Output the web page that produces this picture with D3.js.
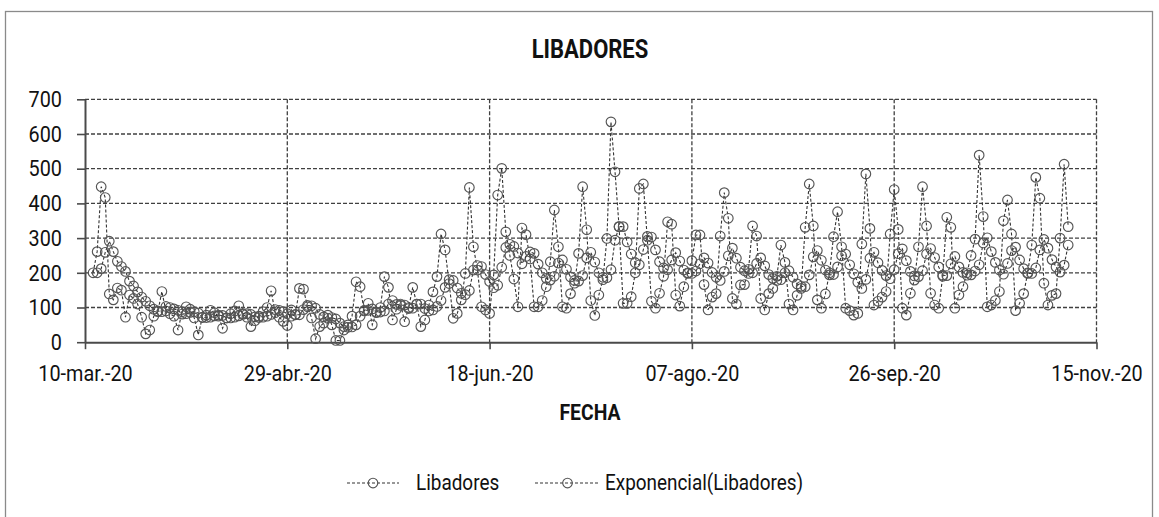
<!DOCTYPE html>
<html><head><meta charset="utf-8">
<script src="https://cdn.jsdelivr.net/npm/d3@7"></script>
<style>
html,body{margin:0;padding:0;background:#fff;}
svg{display:block;}
text{font-family:Roboto,"Noto Sans",sans-serif;fill:#111;}
.cond{transform-box:fill-box;transform:scaleX(0.88);}
</style>
</head><body>
<svg id="chart" width="1159" height="517"></svg>
<script>
// ---- data ----
const libadoresStart = "2020-03-12";
const exponencialStart = "2020-03-13";
const libadores = [
 200,261,448,417,139,122,156,150,72,136,
 126,110,72,24,35,75,88,146,90,82,
 75,35,88,102,95,70,21,72,78,92,
 85,75,40,70,82,90,105,80,72,45,
 62,75,88,100,148,85,72,60,48,93,
 80,155,153,102,70,10,45,55,78,50,
 5,5,35,50,75,174,160,90,112,50,
 85,100,189,158,64,95,110,59,100,158,
 110,45,64,107,145,189,312,266,169,69,
 83,122,198,446,275,208,102,93,83,194,
 424,501,318,250,182,102,329,310,240,102,
 102,120,160,232,381,275,102,98,140,170,
 256,448,324,120,77,136,180,299,635,491,
 333,112,112,131,200,443,456,294,118,98,
 141,190,347,340,136,104,160,200,235,309,
 309,166,93,130,140,306,431,357,126,110,
 165,166,210,335,306,126,93,140,155,190,
 280,230,110,93,135,155,331,456,335,122,
 98,139,200,304,376,275,98,91,78,83,
 283,485,328,107,118,130,146,312,440,325,
 98,78,141,179,275,448,335,141,107,98,
 190,360,331,98,136,160,200,250,297,539,
 362,102,107,120,146,350,410,312,91,112,
 140,200,280,475,415,170,107,135,140,300,
 513,333
];
const exponencial = [
 200,212,259,291,261,233,218,204,176,162,
 145,130,118,105,95,90,88,103,100,96,
 92,81,82,86,88,84,71,71,72,76,
 78,77,70,70,72,76,82,82,80,73,
 71,72,75,80,94,92,88,82,75,79,
 79,94,106,105,98,80,73,69,71,67,
 55,45,43,44,50,75,92,92,96,87,
 87,90,110,120,109,106,107,97,98,110,
 110,97,90,93,103,120,158,180,178,156,
 141,137,149,208,221,218,195,175,157,164,
 216,273,282,276,257,226,247,260,256,225,
 200,184,179,190,228,237,210,188,178,176,
 192,243,259,231,200,187,186,209,294,333,
 333,289,254,229,223,267,305,303,266,232,
 214,209,237,258,234,208,198,198,205,226,
 243,228,201,187,178,204,249,271,242,216,
 206,198,200,227,243,220,195,184,178,180,
 200,206,187,168,161,160,194,246,264,236,
 208,194,195,217,249,254,223,197,173,155,
 181,242,259,229,207,192,183,209,255,269,
 235,204,191,189,206,254,270,244,217,193,
 192,226,247,217,201,193,194,205,223,286,
 301,261,230,208,196,227,264,274,237,212,
 198,198,214,266,296,271,238,217,202,222,
 280
];
const yTickValues = [0,100,200,300,400,500,600,700];
const xTickDates = ["2020-03-10","2020-04-29","2020-06-18","2020-08-07","2020-09-26","2020-11-15"];
const xTickLabels = ["10-mar.-20","29-abr.-20","18-jun.-20","07-ago.-20","26-sep.-20","15-nov.-20"];
const seriesNames = ["Libadores","Exponencial(Libadores)"];
const chartTitle = "LIBADORES";
const xTitle = "FECHA";

// ---- drawing ----
const parse = d3.utcParse("%Y-%m-%d");
const svg = d3.select("#chart");
const plotL = 85, plotR = 1096.5, plotT = 99.3, plotB = 342.2;

const x = d3.scaleUtc().domain([parse(xTickDates[0]), parse(xTickDates[xTickDates.length-1])]).range([plotL, plotR]);
const y = d3.scaleLinear().domain([0, 700]).range([plotB, plotT]);

svg.append("rect").attr("width",1159).attr("height",517).attr("fill","#fff");
svg.append("rect").attr("x",5.5).attr("y",11.5).attr("width",1147).attr("height",530)
  .attr("fill","none").attr("stroke","#8a8a8a").attr("stroke-width",1.3);

svg.append("text").attr("class","cond").style("transform-origin","center")
  .attr("x",590).attr("y",58).attr("text-anchor","middle")
  .attr("font-size",25).attr("font-weight","bold").text(chartTitle);

// gridlines
const grid = svg.append("g");
grid.append("g").selectAll("line").data(yTickValues.filter(v=>v>0)).join("line")
  .attr("x1",plotL).attr("x2",plotR).attr("y1",d=>y(d)).attr("y2",d=>y(d))
  .attr("stroke","#404040").attr("stroke-width",1.3).attr("stroke-dasharray","4,2");
grid.append("g").selectAll("line").data(xTickDates.slice(1).map(parse)).join("line")
  .attr("x1",d=>x(d)).attr("x2",d=>x(d)).attr("y1",y(700)).attr("y2",y(0))
  .attr("stroke","#404040").attr("stroke-width",1.3).attr("stroke-dasharray","4,2");

// axes
const yAxis = svg.append("g").attr("transform",`translate(${plotL},0)`)
  .call(d3.axisLeft(y).tickValues(yTickValues).tickSize(8).tickSizeOuter(0).tickPadding(15));
const xAxis = svg.append("g").attr("transform",`translate(0,${plotB})`)
  .call(d3.axisBottom(x).tickValues(xTickDates.map(parse)).tickFormat((d,i)=>xTickLabels[i])
    .tickSize(7).tickSizeOuter(0).tickPadding(16));
[yAxis,xAxis].forEach(a=>{
  a.select(".domain").attr("stroke","#4a4a4a").attr("stroke-width",2);
  a.selectAll(".tick line").attr("stroke","#4a4a4a").attr("stroke-width",1.6);
  a.selectAll(".tick text").attr("font-size",22.5).attr("fill","#111")
   .attr("font-family","Roboto, 'Noto Sans', sans-serif").attr("class","cond");
});
yAxis.selectAll(".tick text").style("transform-origin","right center");
xAxis.selectAll(".tick text").style("transform-origin","center");

svg.append("text").attr("class","cond").style("transform-origin","center")
  .attr("x",590).attr("y",420).attr("text-anchor","middle")
  .attr("font-size",22).attr("font-weight","bold").text(xTitle);

// series
function toPoints(start, arr){
  const s = parse(start);
  return arr.map((v,i)=>({date:d3.utcDay.offset(s,i), v}));
}
const series = [toPoints(libadoresStart, libadores), toPoints(exponencialStart, exponencial)];
const line = d3.line().x(d=>x(d.date)).y(d=>y(d.v));
const lineColor = "#333", markerColor = "#555";
series.forEach(pts=>{
  const g = svg.append("g");
  g.append("path").datum(pts).attr("d",line).attr("fill","none")
    .attr("stroke",lineColor).attr("stroke-width",1.1).attr("stroke-dasharray","3,2");
  g.selectAll("circle").data(pts).join("circle")
    .attr("cx",d=>x(d.date)).attr("cy",d=>y(d.v)).attr("r",4.8)
    .attr("fill","none").attr("stroke",markerColor).attr("stroke-width",1.15);
});

// legend
const legendItems = [
  {name:seriesNames[0], x1:347, x2:399, tx:416},
  {name:seriesNames[1], x1:535, x2:600, tx:605}
];
const lg = svg.append("g");
legendItems.forEach(it=>{
  lg.append("line").attr("x1",it.x1).attr("x2",it.x2).attr("y1",483).attr("y2",483)
    .attr("stroke",lineColor).attr("stroke-width",1.1).attr("stroke-dasharray","3,2");
  lg.append("circle").attr("cx",(it.x1+it.x2)/2).attr("cy",483).attr("r",4.8)
    .attr("fill","none").attr("stroke",markerColor).attr("stroke-width",1.15);
  lg.append("text").attr("class","cond").style("transform-origin","left center")
    .attr("x",it.tx).attr("y",490).attr("font-size",21.5).text(it.name);
});
</script>
</body></html>
